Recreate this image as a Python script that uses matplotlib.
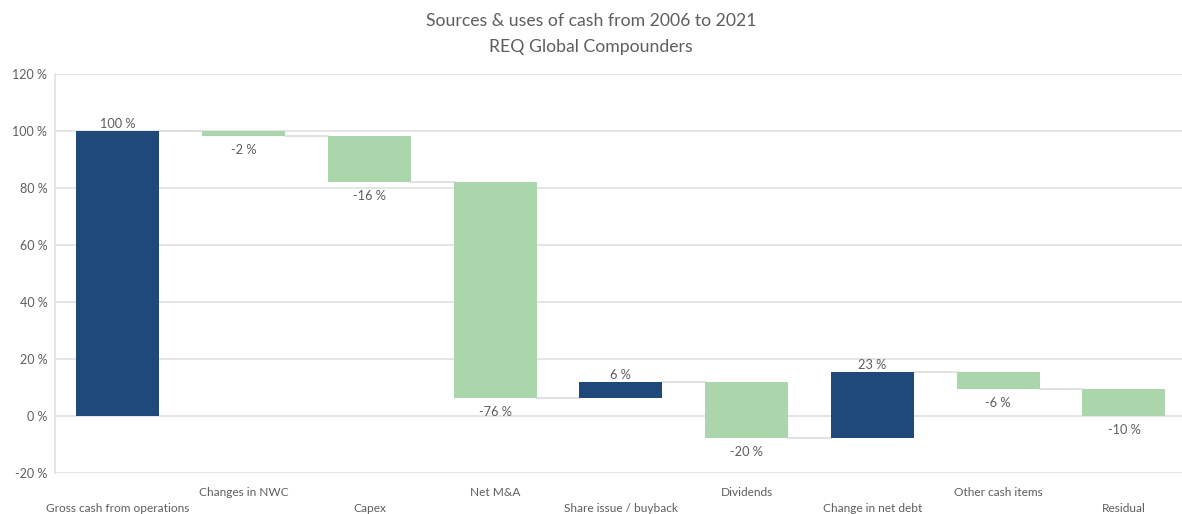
import matplotlib
matplotlib.use("Agg")
import matplotlib.pyplot as plt
import numpy as np

categories = ["Gross cash from operations", "Changes in NWC", "Capex", "Net M&A",
              "Share issue / buyback", "Dividends", "Change in net debt",
              "Other cash items", "Residual"]
values = [100, -1.8, -16.1, -75.8, 5.6, -19.6, 23.1, -5.9, -9.6]
yticks = [-20, 0, 20, 40, 60, 80, 100, 120]
title_lines = ["Sources & uses of cash from 2006 to 2021", "REQ Global Compounders"]

plt.rcParams['font.family'] = ['Lato', 'DejaVu Sans']

BLUE = "#1F487B"
GREEN = "#ABD5AB"
GRID = "#E3E3E3"
TXT = "#5E5E5E"

fig = plt.figure(figsize=(11.82, 5.14), dpi=100)
ax = fig.add_axes([55/1182, 1-473/514, 1131.75/1182, (473-74)/514])

x = np.arange(len(values))
starts = []
run = 0.0
for i, v in enumerate(values):
    if i == 0:
        starts.append(0.0)
        run = v
    else:
        starts.append(run)
        run += v
ends = [s + v for s, v in zip(starts, values)]
w = 0.66
colors = [BLUE if v > 0 else GREEN for v in values]
ax.bar(x, values, bottom=starts, width=w, color=colors, zorder=3, edgecolor='none')

for i in range(len(values) - 1):
    ax.plot([x[i] + w/2, x[i+1] - w/2], [ends[i], ends[i]], color="#DCDCDC", lw=1.2, zorder=2)

for i, v in enumerate(values):
    lab = f"{round(v):d} %"
    if v > 0:
        ax.annotate(lab, (x[i], ends[i]), xytext=(0, 0.5), textcoords='offset points',
                    ha='center', va='bottom', fontsize=9.2, color=TXT)
    else:
        ax.annotate(lab, (x[i], ends[i]), xytext=(0, -5.5), textcoords='offset points',
                    ha='center', va='top', fontsize=9.2, color=TXT)

ax.set_ylim(-20, 120)
ax.set_xlim(-0.5, len(values) - 0.5)
ax.set_yticks(yticks)
ax.set_yticklabels([f"{t} %" for t in yticks])
ax.set_xticks([])
ax.tick_params(axis='y', length=0, labelsize=9, labelcolor=TXT, pad=5.5)
ax.grid(axis='y', color=GRID, lw=1.3, zorder=0)
for s in ['top', 'right', 'bottom']:
    ax.spines[s].set_visible(False)
ax.spines['left'].set_color(GRID)
ax.spines['left'].set_linewidth(1.3)

for i, c in enumerate(categories):
    off = -36 if i % 2 == 0 else -19
    ax.annotate(c, (x[i], 0), xycoords=('data', 'axes fraction'),
                xytext=(0, off * 0.72), textcoords='offset points',
                ha='center', va='center', fontsize=8.6, color=TXT, annotation_clip=False)

fig.text(0.5, 1-21/514, title_lines[0], ha='center', va='center', fontsize=12.7, color=TXT)
fig.text(0.5, 1-47/514, title_lines[1], ha='center', va='center', fontsize=12.7, color=TXT)

fig.savefig("out.png", dpi=100)
